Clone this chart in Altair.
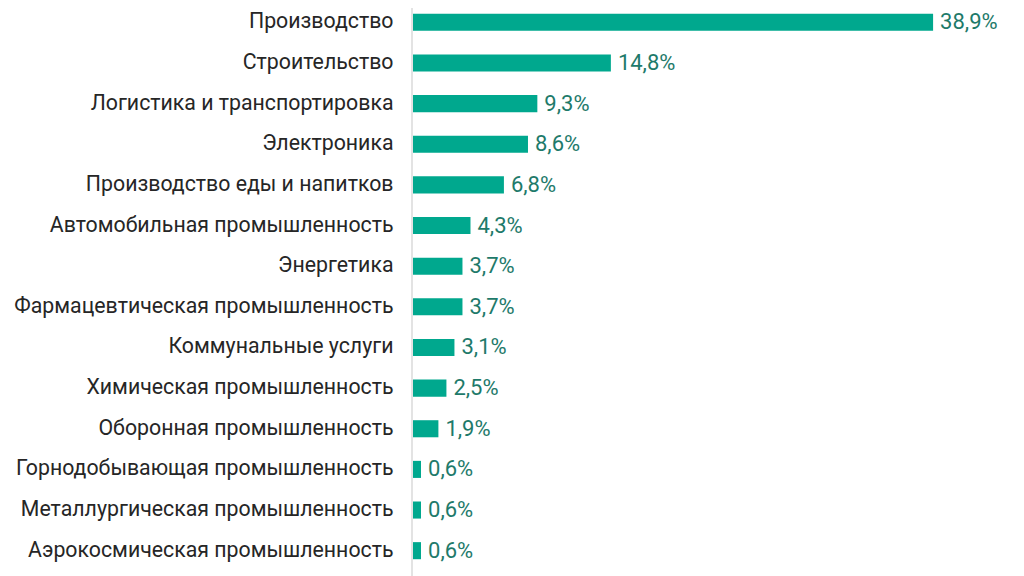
import altair as alt
import pandas as pd

categories = [
    "Производство",
    "Строительство",
    "Логистика и транспортировка",
    "Электроника",
    "Производство еды и напитков",
    "Автомобильная промышленность",
    "Энергетика",
    "Фармацевтическая промышленность",
    "Коммунальные услуги",
    "Химическая промышленность",
    "Оборонная промышленность",
    "Горнодобывающая промышленность",
    "Металлургическая промышленность",
    "Аэрокосмическая промышленность",
]
values = [38.9, 14.8, 9.3, 8.6, 6.8, 4.3, 3.7, 3.7, 3.1, 2.5, 1.9, 0.6, 0.6, 0.6]
labels = [f"{v:.1f}%".replace(".", ",") for v in values]

df = pd.DataFrame({"cat": categories, "val": values, "label": labels})

W = 600
H = 568
xmax = W / 13.37

y = alt.Y(
    "cat:N",
    sort=categories,
    scale=alt.Scale(range=[-6, 563], paddingInner=0.58, paddingOuter=0.29),
    axis=alt.Axis(
        title=None,
        domain=False,
        ticks=False,
        grid=False,
        labelFont="Roboto",
        labelFontSize=21.3,
        labelColor="#262626",
        labelPadding=20,
        labelLimit=500,
    ),
)
x = alt.X("val:Q", scale=alt.Scale(domain=[0, xmax], nice=False), axis=None)

base = alt.Chart(df)

bars = base.mark_bar(color="#00A88E").encode(x=x, y=y)
text = base.mark_text(
    align="left", baseline="middle", dx=7, font="Roboto", fontSize=22, color="#1e7a6a"
).encode(x=x, y=y, text="label:N")
rule = base.mark_rule(color="#e3e3e3", strokeWidth=1.5).encode(
    x=alt.value(-1), y=alt.value(0), y2=alt.value(H)
)

chart = (
    alt.layer(rule, bars, text)
    .properties(
        width=W,
        height=H,
        autosize=alt.AutoSizeParams(type="none"),
        padding={"left": 405, "top": 0, "right": 0, "bottom": 0},
    )
    .configure_view(stroke=None)
)

chart.save("out.html", embed_options={"renderer": "svg", "actions": False})
